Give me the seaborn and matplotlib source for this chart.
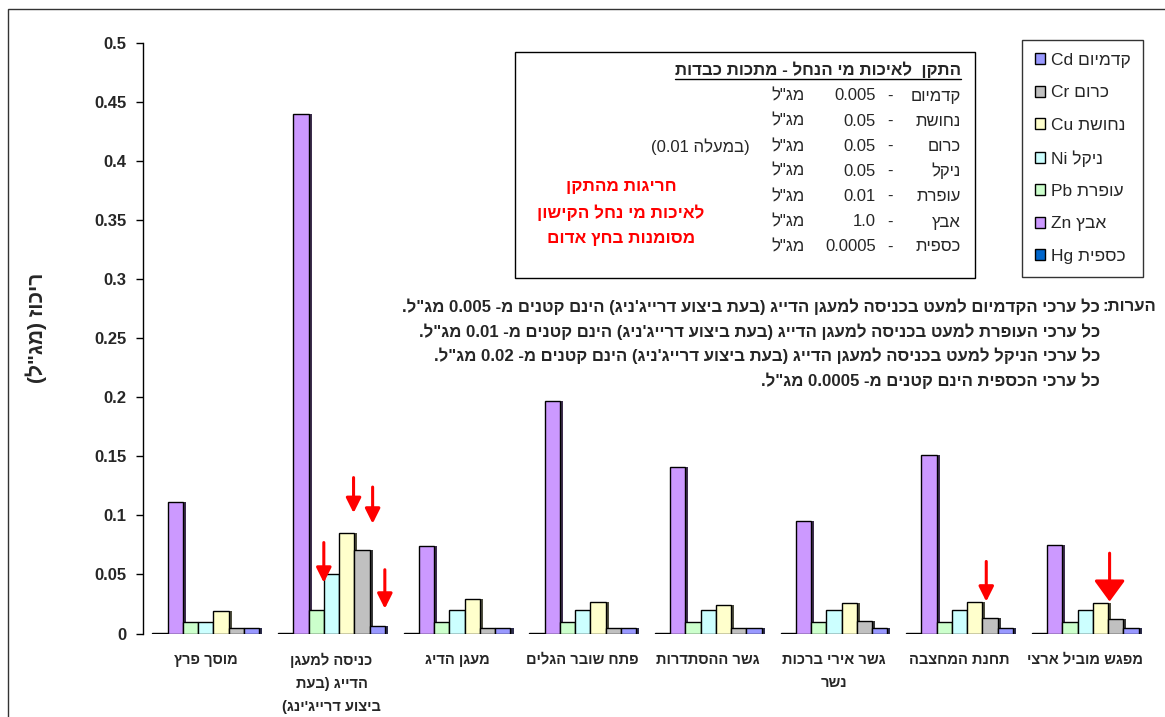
import re
import numpy as np
import pandas as pd
import seaborn as sns
import matplotlib
matplotlib.use("Agg")
import matplotlib.pyplot as plt
from matplotlib.patches import Patch, Rectangle
from matplotlib.lines import Line2D

# ---------------------------------------------------------------- data
stations = [
    "מוסך פרץ",
    "כניסה למעגן\nהדייג (בעת\nביצוע דרייג'ינג)",
    "מעגן הדיג",
    "פתח שובר הגלים",
    "גשר ההסתדרות",
    "גשר אירי ברכות\nנשר",
    "תחנת המחצבה",
    "מפגש מוביל ארצי",
]

metals = ["Cd", "Cr", "Cu", "Ni", "Pb", "Zn", "Hg"]
metal_names = ["קדמיום", "כרום", "נחושת", "ניקל", "עופרת", "אבץ", "כספית"]

cd = [0.005, 0.006, 0.005, 0.005, 0.005, 0.005, 0.005, 0.005]
cr = [0.005, 0.071, 0.005, 0.005, 0.005, 0.011, 0.013, 0.012]
cu = [0.019, 0.085, 0.029, 0.027, 0.024, 0.026, 0.027, 0.026]
ni = [0.010, 0.050, 0.020, 0.020, 0.020, 0.020, 0.020, 0.020]
pb = [0.010, 0.020, 0.010, 0.010, 0.010, 0.010, 0.010, 0.010]
zn = [0.111, 0.440, 0.074, 0.197, 0.141, 0.095, 0.151, 0.075]
hg = [0.0005, 0.0005, 0.0005, 0.0005, 0.0005, 0.0005, 0.0005, 0.0005]

y_ticks = [0, 0.05, 0.1, 0.15, 0.2, 0.25, 0.3, 0.35, 0.4, 0.45, 0.5]
y_tick_labels = ["0", "0.05", "0.1", "0.15", "0.2", "0.25", "0.3", "0.35", "0.4", "0.45", "0.5"]
y_label = 'ריכוז (מג"ל)'

std_title = "התקן  לאיכות מי הנחל - מתכות כבדות"
std_names = ["קדמיום", "נחושת", "כרום", "ניקל", "עופרת", "אבץ", "כספית"]
std_values = ["0.005", "0.05", "0.05", "0.05", "0.01", "1.0", "0.0005"]
std_unit = 'מג"ל'
std_extra = "(במעלה 0.01)"
alert_lines = ["חריגות מהתקן", "לאיכות מי נחל הקישון", "מסומנות בחץ אדום"]

notes_head = "הערות:"
notes = [
    "כל ערכי הקדמיום למעט בכניסה למעגן הדייג (בעת ביצוע דרייג'ניג) הינם קטנים מ- 0.005 מג\"ל.",
    "כל ערכי העופרת למעט בכניסה למעגן הדייג (בעת ביצוע דרייג'ניג) הינם קטנים מ- 0.01 מג\"ל.",
    "כל ערכי הניקל למעט בכניסה למעגן הדייג (בעת ביצוע דרייג'ניג) הינם קטנים מ- 0.02 מג\"ל.",
    "כל ערכי הכספית הינם קטנים מ- 0.0005 מג\"ל.",
]

# bars are drawn in this order inside each station group
bar_order = ["Hg", "Zn", "Pb", "Ni", "Cu", "Cr", "Cd"]
palette = {"Cd": "#9999FF", "Cr": "#C0C0C0", "Cu": "#FFFFCC", "Ni": "#CCFFFF",
           "Pb": "#CCFFCC", "Zn": "#CC99FF", "Hg": "#0066CC"}

# exceedance markers: station index, metal, position along bar, tail, tip, head size
exceed_arrows = [
    (1, "Pb", 1.00, 0.077, 0.043, "small"),
    (1, "Cu", 0.95, 0.132, 0.102, "small"),
    (1, "Cr", 1.20, 0.124, 0.093, "small"),
    (1, "Cd", 1.00, 0.054, 0.021, "small"),
    (6, "Cr", 0.25, 0.061, 0.027, "small"),
    (7, "Cr", 0.10, 0.068, 0.027, "large"),
]

# ---------------------------------------------------------------- helpers
_MIRROR = {"(": ")", ")": "(", "[": "]", "]": "["}
_LTR = re.compile(r"[A-Za-z0-9][A-Za-z0-9.]*[A-Za-z0-9]|[A-Za-z0-9]")


def visual(text):
    """Reorder right-to-left text into display order, line by line."""
    out_lines = []
    for line in text.split("\n"):
        runs, pos = [], 0
        for m in _LTR.finditer(line):
            if m.start() > pos:
                runs.append(("r", line[pos:m.start()]))
            runs.append(("l", m.group()))
            pos = m.end()
        if pos < len(line):
            runs.append(("r", line[pos:]))
        pieces = []
        for kind, seg in runs:
            if kind == "l":
                pieces.append(seg)
            else:
                pieces.append("".join(_MIRROR.get(c, c) for c in reversed(seg)))
        out_lines.append("".join(reversed(pieces)))
    return "\n".join(out_lines)


# ---------------------------------------------------------------- figure
W, H = 1165, 717
sns.set_theme(style="white")
plt.rcParams["font.family"] = ["Liberation Sans", "DejaVu Sans"]

fig = plt.figure(figsize=(W / 100, H / 100), dpi=100)
fig.patch.set_facecolor("white")


def fx(px):
    return px / W


def fy(py):
    return 1 - py / H


def fit_width(artist, target_px):
    """Scale a text's font size so that it spans target_px pixels."""
    r = fig.canvas.get_renderer()
    w = artist.get_window_extent(r).width
    artist.set_fontsize(artist.get_fontsize() * target_px / w)
    return artist.get_fontsize()


ax = fig.add_axes([fx(143), fy(633.5), (1148 - 143) / W, (633.5 - 43) / H])

series = {"Cd": cd, "Cr": cr, "Cu": cu, "Ni": ni, "Pb": pb, "Zn": zn, "Hg": hg}
df = pd.DataFrame(
    [(st, m, v) for m in metals for st, v in zip(stations, series[m])],
    columns=["station", "metal", "value"],
)

sns.barplot(data=df, x="station", y="value", hue="metal", order=stations,
            hue_order=bar_order, palette=palette, saturation=1, width=0.85,
            edgecolor="black", linewidth=1.0, errorbar=None, legend=False, ax=ax)

# dark side strip behind every bar
for p in list(ax.patches):
    p.set_zorder(3)
    x, w, h = p.get_x(), p.get_width(), p.get_height()
    dark = tuple(np.array(p.get_facecolor()[:3]) * 0.3)
    ax.add_patch(Rectangle((x + 0.2 * w, 0), w, h, facecolor=dark,
                           edgecolor="none", zorder=2))

ax.set_xlim(-0.5, len(stations) - 0.5)
ax.set_ylim(0, 0.5)
ax.set_yticks(y_ticks)
ax.set_yticklabels(y_tick_labels, fontsize=12, fontweight="bold")
ax.set_xticks(range(len(stations)))
ax.set_xticklabels([visual(s) for s in stations], fontsize=10.5,
                   fontweight="bold", linespacing=1.8)
ax.tick_params(axis="x", length=0, pad=14)
ax.tick_params(axis="y", length=5, width=1, color="black", direction="out",
               pad=7, left=True)
ax.set_xlabel("")
ax.set_ylabel("")
for side in ["top", "right", "bottom"]:
    ax.spines[side].set_visible(False)
ax.spines["left"].set_color("black")
ax.spines["left"].set_linewidth(1)

# exceedance arrows
bw = 0.85 / len(bar_order)
for si, metal, frac, tail, tip, size in exceed_arrows:
    xpos = si - 0.425 + bar_order.index(metal) * bw + frac * bw
    style = ("-|>,head_length=0.9,head_width=0.45" if size == "small"
             else "-|>,head_length=1.3,head_width=0.95")
    ax.annotate("", xy=(xpos, tip), xytext=(xpos, tail),
                arrowprops=dict(arrowstyle=style, color="red", lw=2.2,
                                shrinkA=0, shrinkB=0, mutation_scale=10),
                zorder=5)

# y label
fig.text(fx(36), fy(328), visual(y_label), rotation=90, ha="center",
         va="center", fontsize=15, fontweight="bold")

# legend
handles = [Patch(facecolor=palette[m], edgecolor="black", linewidth=1)
           for m in metals]
labels = [visual(f"{n} {m}") for n, m in zip(metal_names, metals)]
leg = fig.legend(handles, labels, loc="upper left",
                 bbox_to_anchor=(fx(1022), fy(40)), frameon=True,
                 fancybox=False, fontsize=12.5, handlelength=0.6,
                 handleheight=0.6, handletextpad=0.3, labelspacing=1.0,
                 borderpad=0.75, borderaxespad=0)
leg.get_frame().set_edgecolor("black")
leg.get_frame().set_linewidth(1.0)

# standard box
fig.add_artist(Rectangle((fx(515), fy(278)), (975 - 515) / W, (278 - 52) / H,
                         transform=fig.transFigure, facecolor="white",
                         edgecolor="black", linewidth=1.0))
title = fig.text(fx(961), fy(70), visual(std_title), ha="right", va="center",
                 fontsize=12.2, fontweight="bold")
row_y = [96, 121, 146.5, 171, 196.5, 222, 247]
fs = 12
for name, val, yy in zip(std_names, std_values, row_y):
    fig.text(fx(961), fy(yy), visual(name), ha="right", va="center", fontsize=fs)
    fig.text(fx(890), fy(yy), "-", ha="center", va="center", fontsize=fs)
    fig.text(fx(876), fy(yy), val, ha="right", va="center", fontsize=fs)
    fig.text(fx(805), fy(yy), visual(std_unit), ha="right", va="center", fontsize=fs)
fig.text(fx(750), fy(row_y[2]), visual(std_extra), ha="right", va="center",
         fontsize=fs)
for line, yy in zip(alert_lines, [187, 212.5, 238]):
    fig.text(fx(621), fy(yy), visual(line), ha="center", va="center",
             fontsize=12.3, fontweight="bold", color="red")

# notes
fig.canvas.draw()
note_texts = []
for line, yy in zip(notes, [307, 331.5, 356, 380.5]):
    note_texts.append(fig.text(fx(1100), fy(yy), visual(line), ha="right",
                               va="center", fontsize=10, fontweight="bold"))
note_fs = fit_width(note_texts[1], 1098 - 415)
for t in note_texts:
    t.set_fontsize(note_fs)
fig.text(fx(1156), fy(307), visual(notes_head), ha="right", va="center",
         fontsize=note_fs, fontweight="bold")

# outer frame
fig.add_artist(Rectangle((fx(8), -0.2), 2, fy(9) + 0.2, transform=fig.transFigure,
                         fill=False, edgecolor="#333333", linewidth=1.0))

# underline the standard title
fig.canvas.draw()
bb = title.get_window_extent()
inv = fig.transFigure.inverted()
(x0, y0), (x1, _) = inv.transform([(bb.x0, bb.y0 - 1), (bb.x1, bb.y0 - 1)])
fig.add_artist(Line2D([x0, x1], [y0, y0], transform=fig.transFigure,
                      color="black", linewidth=1.0))

fig.savefig("out.png", dpi=100, facecolor="white")
